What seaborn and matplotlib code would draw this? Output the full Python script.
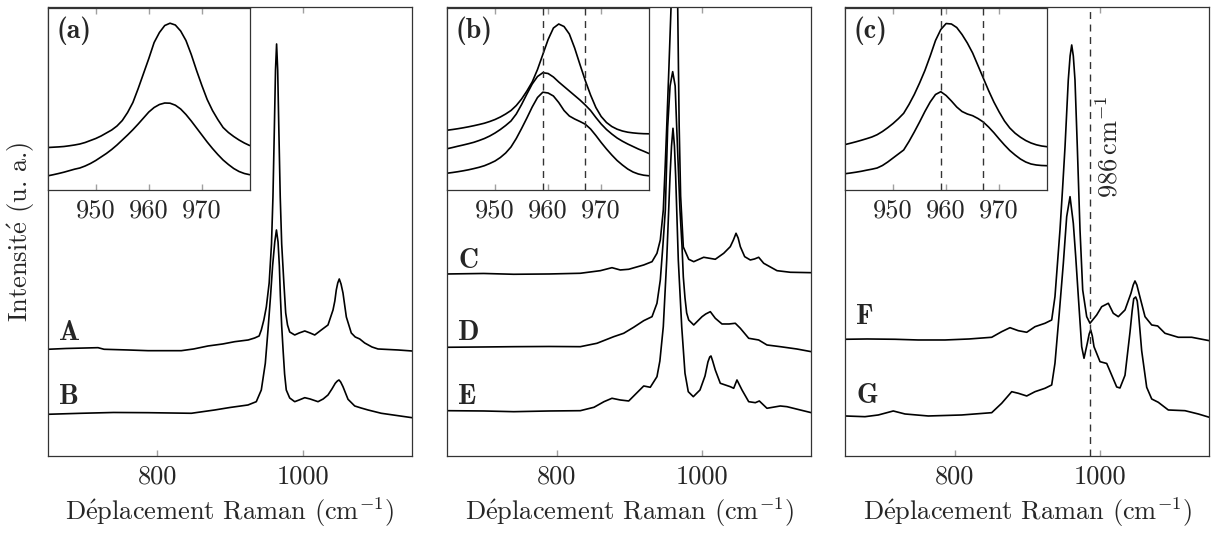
import matplotlib
matplotlib.use('Agg')
import matplotlib.pyplot as plt
import seaborn as sns

# spectres principaux (cm-1, intensite u.a.)
A_x = [650, 675, 718.7, 727, 760, 787.4, 833.1, 850, 869.8, 890, 906.5, 925, 933.9, 940, 943, 946.5, 949.9,
       953.8, 957, 959, 961, 962.5, 964, 965.5, 967, 969, 971, 974, 976.5, 979, 982, 988.9, 995, 1002.7, 1010,
       1016.4, 1025.4, 1034.6, 1041.5, 1044, 1046, 1048, 1050.1, 1052.5, 1055.2, 1059.8, 1066.6, 1072, 1078.2,
       1085, 1095, 1103.3, 1130.8, 1150]
A_y = [106.7, 107.5, 108.3, 106.7, 106, 105.3, 105.3, 107, 110, 112, 114.3, 116, 118, 120, 126, 136, 149,
       173, 212, 259, 330, 386, 412, 386, 330, 259, 212, 173, 143, 131, 124, 121, 123, 125, 123,
       121, 126, 131, 146, 155, 166, 173, 177, 172, 163, 139, 123, 119, 117,
       113, 109, 107, 106, 105]

B_x = [650, 695.7, 740, 787.4, 846.9, 879, 900, 924.7, 936.1, 943, 948.5, 952.2, 955.7, 958.5, 961.5, 963.8,
       966, 967.8, 969.2, 971, 973, 975, 977.3, 982, 988.9, 995, 1002.7, 1010, 1020.9, 1028, 1034.6, 1040,
       1044.6, 1047.5, 1049.7, 1052, 1055.2, 1062.1, 1071.3, 1080, 1089.6, 1107.8, 1130.8, 1150]
B_y = [41.7, 42.7, 43.5, 43.3, 42.7, 46, 48.5, 51, 54.3, 66, 92.7, 126, 160, 190, 214, 226,
       214, 190, 160, 130, 105, 82, 66, 58, 54.3, 56, 58.3, 57, 54.3, 57, 61, 67,
       72.7, 75, 76, 74, 69.3, 56.7, 50, 48, 46, 42.7, 40.3, 38.3]

C_x = [650, 700, 741.2, 790, 832.7, 860.2, 876.2, 887.6, 899.2, 919.8, 931.2, 938, 942.6, 946.7, 949.3, 951.4,
       954.5, 957.3, 959.5, 961.6, 963.7, 966.5, 968.5, 970.5, 974.2, 981.6, 988.5, 1002.2, 1018.1, 1029.7,
       1038.7, 1043, 1046.6, 1049.5, 1052.5, 1058.5, 1066.2, 1072, 1077.7, 1084.6, 1102.9, 1121.2, 1150]
C_y = [182, 182.5, 181.7, 182, 182.7, 185.3, 188.3, 186, 186.7, 191, 194.3, 202.7, 216, 246, 290, 329,
       390, 448, 520, 560, 520, 448, 330, 260, 209, 196.7, 194.3, 198.7, 196.7, 202.7,
       209.3, 216, 222.7, 218, 209.3, 199.3, 196, 197, 198.7, 192.7, 185.3, 183.7, 183.3]

D_x = [650, 700, 741.2, 790, 832.7, 855.6, 878.6, 892.3, 906, 919.8, 931.2, 938, 942.6, 946.3, 949.5, 952.7,
       956, 959.6, 963, 965.1, 969.6, 972.4, 974.2, 976.5, 978.8, 981.6, 988.5, 999.9, 1005, 1011.3, 1018.1,
       1027.3, 1037, 1045.6, 1052.5, 1064, 1077.7, 1089.1, 1107.4, 1130, 1150]
D_y = [108.7, 109, 109.3, 109.5, 109.3, 112.7, 119.3, 122.7, 128.7, 135.3, 139.3, 152.7, 176, 212, 246, 329,
       370, 384.3, 370, 329, 246, 210, 179, 158, 143, 136, 131, 139.3, 142, 144.3, 137.7,
       132, 132, 132.7, 127.7, 117.7, 116, 111, 109.3, 107, 104.3]

E_x = [650, 700, 741.2, 790, 832.7, 851.5, 865.2, 876.2, 887.6, 899.2, 910.6, 919.8, 928.8, 938, 942, 946.7,
       951.4, 955.9, 958, 960, 962, 963.7, 967.3, 972, 976.5, 981, 987.9, 997.1, 1004, 1008, 1010.5, 1012.2,
       1014.5, 1018.1, 1025, 1038.7, 1043.4, 1047.9, 1054.8, 1064, 1073.1, 1078.6, 1089.1, 1107.4, 1116.6,
       1134.9, 1150]
E_y = [45.3, 45, 44.3, 45, 45.3, 48.7, 54.3, 57.7, 56, 55, 63.3, 70, 68.7, 79.3, 95, 129.3,
       196, 279.3, 310, 327.7, 310, 279.3, 196, 129.3, 82.7, 64.3, 59.3, 66, 80, 94, 99, 100,
       95, 86, 72.7, 69.3, 67.7, 76, 66, 54.3, 53.3, 55, 47.7, 50, 49.3,
       46, 43.3]

F_x = [650, 680, 718.3, 750, 787, 820, 851.1, 864.8, 876.2, 887.6, 899.2, 910.6, 924.3, 933.5, 938, 944.9,
       948.5, 951.8, 956.3, 958.8, 961, 963.2, 965.5, 968.7, 972.4, 976.1, 981.6, 986.1, 995.3, 1002.2, 1011.3,
       1018.1, 1025, 1034.2, 1042.4, 1045.5, 1047.9, 1050.5, 1053.4, 1061.7, 1070.9, 1079.1, 1089.1, 1107.4,
       1125.8, 1150]
F_y = [116.7, 117, 116.7, 116, 116, 117, 118.7, 124.3, 128.3, 125.3, 123.7, 129.3, 132.7, 136, 159.3, 226,
       268, 309, 376, 400, 411, 400, 376, 309, 226, 166, 139.3, 132.7, 141, 149.3, 152.7,
       142.7, 139.3, 146, 162.7, 171, 175, 171, 162.7, 139.3, 131, 130, 122.7, 118.7,
       118.7, 115.3]

G_x = [650, 677, 695.3, 715.9, 732, 764, 809.9, 851.1, 864.8, 878.6, 887.6, 899.2, 910.6, 924.3, 933.5, 938,
       943.9, 949.5, 954.1, 958.7, 963.2, 966.5, 970.1, 974.7, 977.9, 982.4, 985, 987.1, 989.3, 991.6, 999.9,
       1009.1, 1016, 1022.8, 1027.3, 1034.2, 1041.1, 1044, 1046.2, 1048.9, 1051, 1052.5, 1057.1, 1064, 1070.9,
       1079.9, 1093.7, 1116.6, 1134.9, 1150]
G_y = [40, 39.3, 41, 45, 42, 40, 41, 43.3, 52.7, 64.3, 62.7, 60, 64.3, 67.7, 71, 92.7,
       142.7, 192.7, 239.3, 259.3, 232.7, 199.3, 159.3, 109.3, 97.7, 112.7, 122, 126, 120, 109.3, 94.3,
       92.5, 80.7, 69, 68, 80.7, 124, 145, 157.3, 159, 155, 145.3, 105.3, 68.7, 57,
       53.7, 46, 45.3, 42, 38.7]

# encarts (zoom 941-979 cm-1)
ins_x = [941, 942, 943, 944, 945, 946, 947, 948, 949, 950, 951, 952, 953, 954, 955, 956, 957, 958, 959, 960,
         961, 962, 963, 964, 965, 966, 967, 968, 969, 970, 971, 972, 973, 974, 975, 976, 977, 978, 979]
ins_a_top = [43, 43.3, 43.6, 44, 44.7, 45.5, 46.5, 48, 50, 52, 54.5, 57.5, 60.5, 64.5, 70, 78, 88, 102, 117, 132,
             148, 158, 165, 167.3, 165.5, 159.5, 150, 136, 120, 105, 91, 80, 71, 63, 58, 54, 50.5, 47.5, 45]
ins_a_bot = [14.7, 15.8, 17, 18.3, 19.8, 21.3, 22.5, 24.5, 27, 30, 33.5, 37, 41, 45.5, 50.5, 55.5, 60.8, 66.5,
             72.5, 78.5, 83, 86, 87.5, 87.3, 85.3, 81.5, 76, 69.5, 62.5, 55.5, 48.5, 42, 36, 30.5, 26, 22, 19,
             17, 15.8]
ins_b_top = [60.3, 61, 61.8, 62.7, 63.7, 64.8, 66, 67.3, 69, 71, 73.5, 76.5, 80, 85, 91.5, 99.5, 108.5, 121,
             136, 151, 162.5, 166.5, 164, 156.5, 142.5, 126, 110, 95.5, 83, 74, 68, 64, 61.3, 59.5, 58.3, 57.6,
             57.1, 56.8, 56.7]
ins_b_mid = [41.8, 43, 44.3, 45.5, 46.8, 48.2, 50, 52, 54.5, 57.5, 61, 65, 69.5, 76.5, 86, 96.5, 106.5, 114,
             117.8, 117, 113.5, 108.5, 104, 99.5, 95, 90.5, 85.5, 80, 73, 66.5, 61, 56.5, 52.5, 49.3, 46.5, 44,
             41.5, 39.3, 37]
ins_b_bot = [17.3, 18, 18.8, 19.7, 20.7, 21.9, 23.2, 24.8, 27, 29.5, 33, 37.5, 43.5, 52, 62, 72.5, 83.5, 93,
             98.3, 97.5, 94.5, 88, 80, 74.5, 71.5, 69, 66.3, 61.5, 55, 48, 41.5, 35.5, 30, 25.5, 21.5, 18.5,
             16.5, 15.3, 14.7]
ins_c_top = [46, 47.3, 48.7, 50.2, 51.8, 53.5, 55.8, 59, 62.8, 67, 71.8, 77.2, 86, 96, 107.5, 120, 134.5, 150,
             161, 167, 166.5, 163, 156, 147.5, 137.5, 125, 112.5, 100, 88.5, 78.5, 69.5, 62.5, 57.3, 53.3, 50,
             47.5, 45.7, 44.5, 43.8]
ins_c_bot = [16.8, 17.5, 18.3, 19.2, 20.3, 21.3, 22.5, 25, 28.5, 32.5, 36.5, 40.5, 49, 58.5, 68.5, 79, 88.5, 96,
             98.8, 95, 89.5, 83.5, 79, 76.5, 74.8, 72, 68.5, 63.5, 57.8, 51.5, 45.5, 40, 35.5, 31.5, 28.5, 26.5,
             25.5, 25, 24.8]

panel_tags = ['(a)', '(b)', '(c)']
curve_tags = [['A', 'B'], ['C', 'D', 'E'], ['F', 'G']]
tag_levels = [[123, 58.5], [195, 123, 58.5], [138.5, 60.3]]
main_curves = [[(A_x, A_y), (B_x, B_y)],
               [(C_x, C_y), (D_x, D_y), (E_x, E_y)],
               [(F_x, F_y), (G_x, G_y)]]
inset_curves = [[ins_a_top, ins_a_bot],
                [ins_b_top, ins_b_mid, ins_b_bot],
                [ins_c_top, ins_c_bot]]
inset_marks = [[], [959, 967], [959, 967]]
band_986 = 986

sns.set_theme(style='white')
plt.rcParams['font.family'] = ['cmr10', 'DejaVu Serif']
plt.rcParams['mathtext.fontset'] = 'cm'
plt.rcParams['axes.unicode_minus'] = False
plt.rcParams['axes.edgecolor'] = '#333333'
plt.rcParams['axes.linewidth'] = 0.9

FS = 19
bold = ['cmb10', 'DejaVu Serif']
e_acute = r'$\mathrm{\acute{e}}$'

fig = plt.figure(figsize=(12.11, 5.33), dpi=100)
lefts = [48 / 1211, 447.3 / 1211, 845.3 / 1211]

for i in range(3):
    ax = fig.add_axes([lefts[i], 0.1445, 364 / 1211, 0.8415])
    for (xs, ys) in main_curves[i]:
        sns.lineplot(x=xs, y=ys, ax=ax, color='black', linewidth=1.2, estimator=None, sort=False)
    for tag, lev in zip(curve_tags[i], tag_levels[i]):
        ax.text(665, lev, tag, family=bold, fontsize=FS + 1, ha='left', va='center')
    ax.set_xlim(650, 1150)
    ax.set_ylim(0, 448.5)
    ax.set_xticks([800, 1000])
    ax.set_yticks([])
    ax.tick_params(axis='x', direction='in', top=True, bottom=True, length=4.5, width=1,
                   color='#a0a0a0', labelsize=FS, pad=6)
    ax.set_xlabel('D' + e_acute + r'placement Raman (cm$^{-1}$)', fontsize=FS, labelpad=5)
    if i == 0:
        ax.set_ylabel('Intensit' + e_acute + ' (u. a.)', fontsize=FS, labelpad=8)
    if i == 2:
        ax.axvline(band_986, color='#333333', linewidth=1, linestyle=(0, (5, 4)))
        ax.text(1013, 309, r'986$\,\mathrm{cm}^{-1}$', fontsize=FS, rotation=90, ha='center', va='center')

    ins = fig.add_axes([lefts[i], 0.6426, 0.1665, 0.3433])
    ins.set_facecolor('white')
    for ys in inset_curves[i]:
        sns.lineplot(x=ins_x, y=ys, ax=ins, color='black', linewidth=1.2, estimator=None, sort=False)
    for m in inset_marks[i]:
        ins.axvline(m, color='#333333', linewidth=1, linestyle=(0, (5, 4)))
    ins.set_xlim(941, 979)
    ins.set_ylim(0, 183)
    ins.set_xticks([950, 960, 970])
    ins.set_yticks([])
    ins.tick_params(axis='x', direction='in', top=True, bottom=True, length=4.5, width=1,
                    color='#a0a0a0', labelsize=FS, pad=6)
    ins.text(0.04, 0.95, panel_tags[i], transform=ins.transAxes, family=bold, fontsize=FS + 1,
             ha='left', va='top')

fig.savefig('out.png', dpi=100)
